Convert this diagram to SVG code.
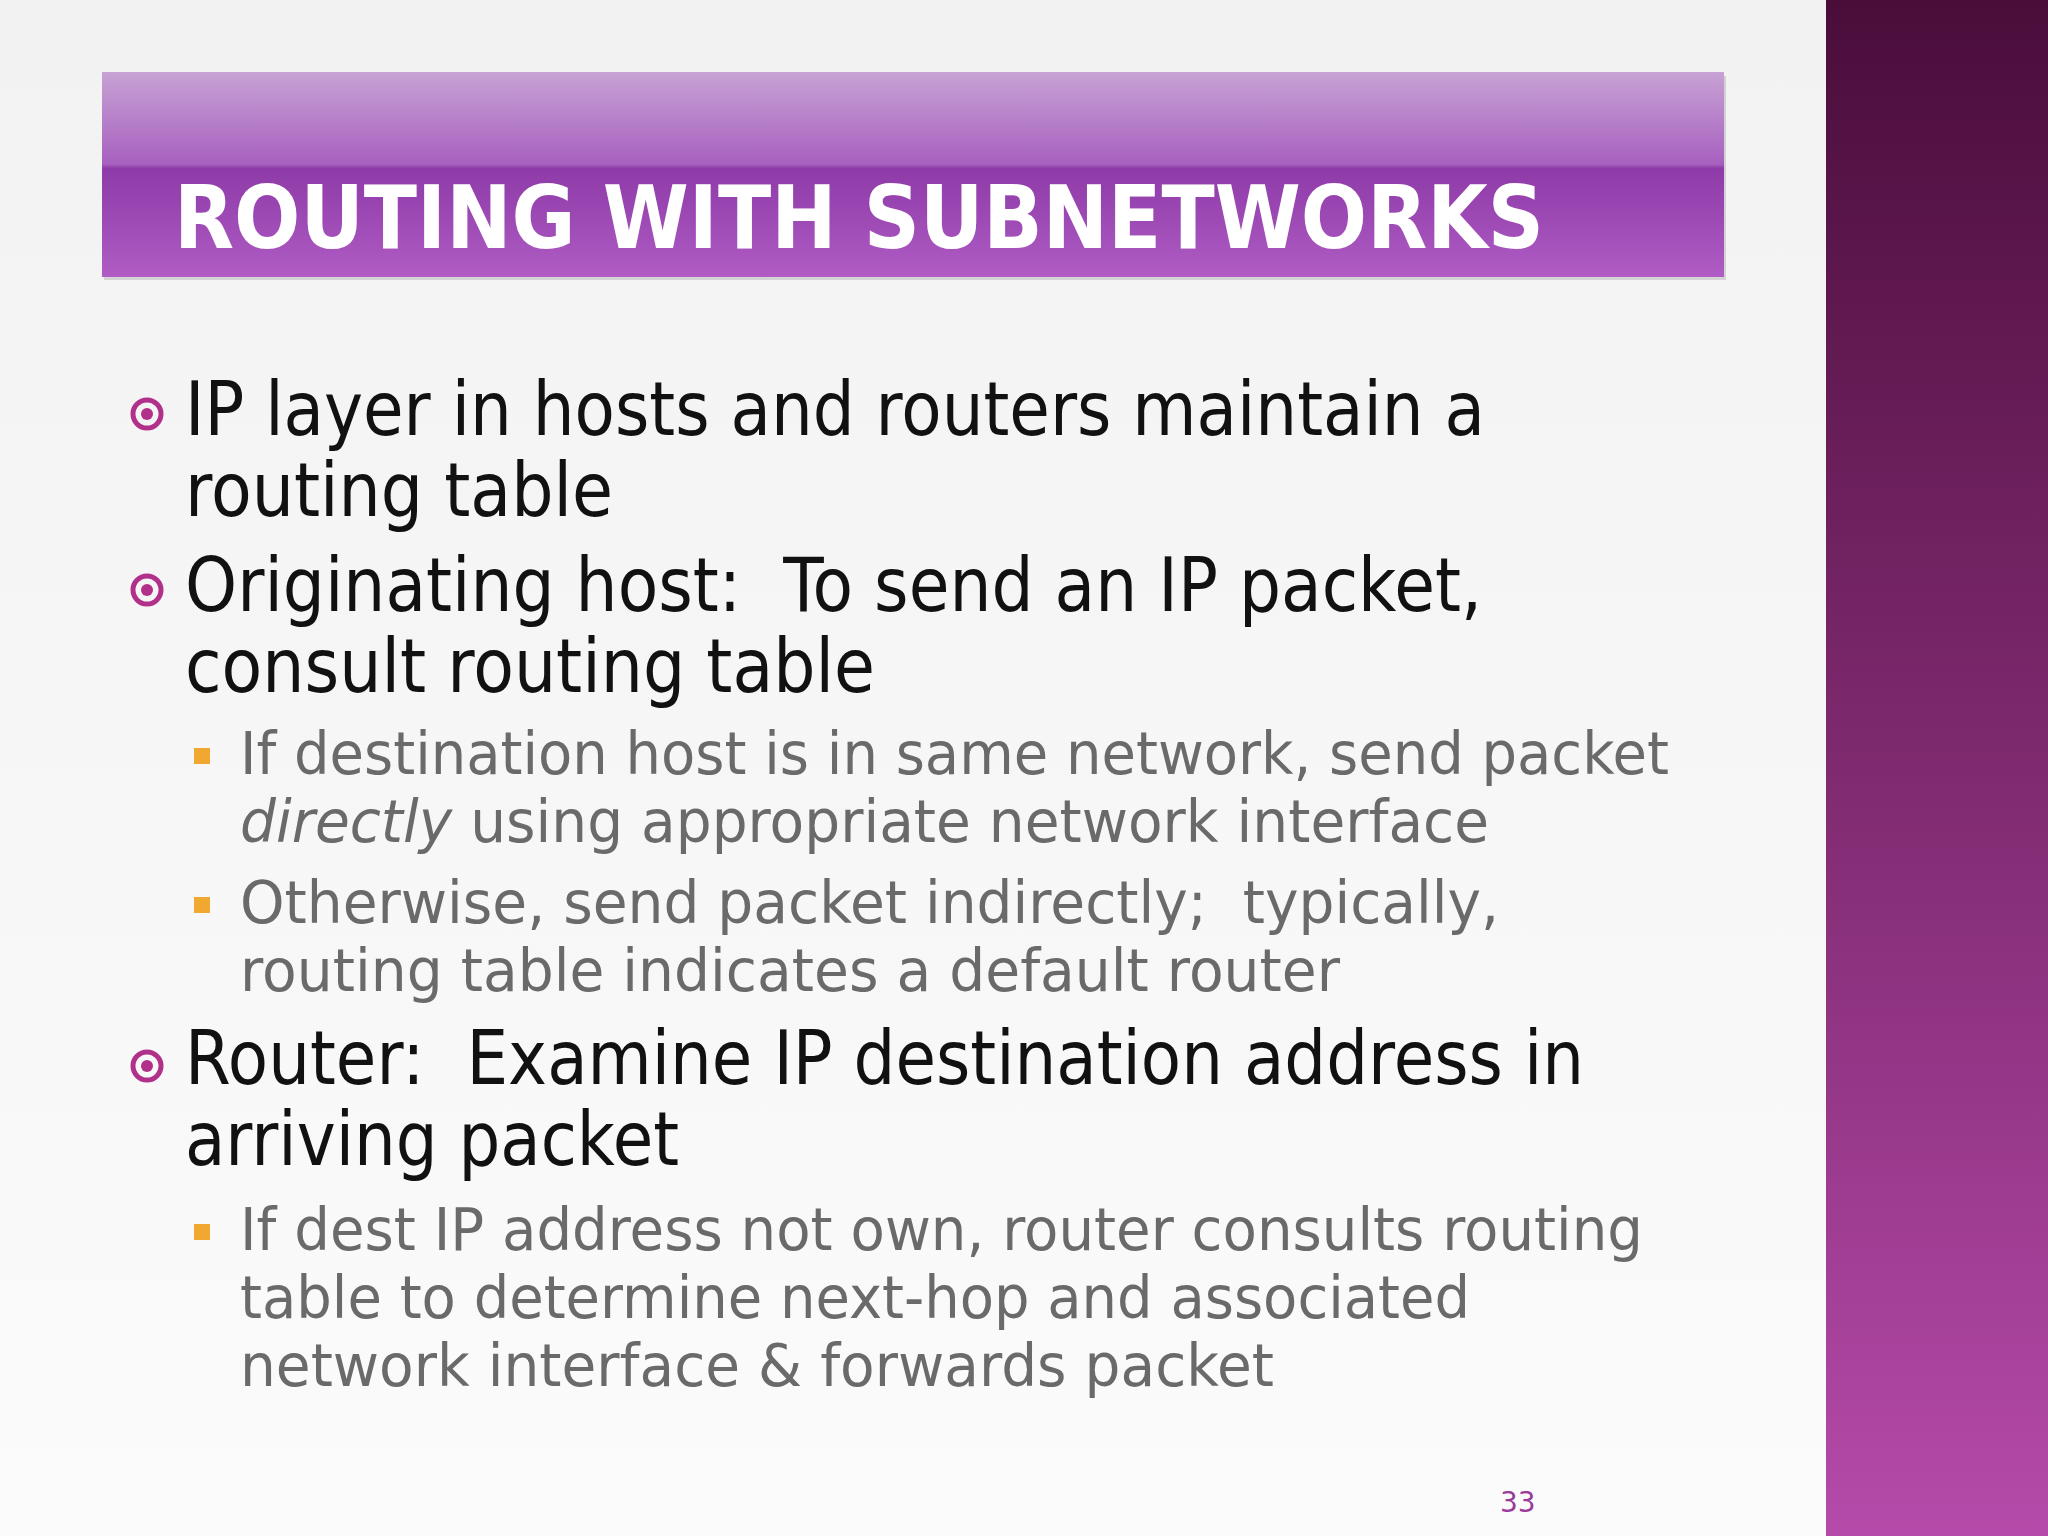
<svg xmlns="http://www.w3.org/2000/svg" width="2048" height="1536" viewBox="0 0 2048 1536">
<defs>
<linearGradient id="bg" x1="0" y1="0" x2="0" y2="1"><stop offset="0" stop-color="#f2f2f2"/><stop offset="1" stop-color="#fbfbfb"/></linearGradient>
<linearGradient id="side" x1="0" y1="0" x2="0" y2="1"><stop offset="0" stop-color="#4a0d3a"/><stop offset="0.5" stop-color="#7f2a70"/><stop offset="1" stop-color="#b54aaa"/></linearGradient>
<linearGradient id="title" x1="0" y1="0" x2="0" y2="1"><stop offset="0" stop-color="#c7a2d4"/><stop offset="0.45" stop-color="#a760bf"/><stop offset="0.47" stop-color="#8e3aa8"/><stop offset="1" stop-color="#b05cc4"/></linearGradient>
<style>
.m{font-family:"DejaVu Sans",Verdana,sans-serif;font-size:74px;fill:#111}
.s{font-family:"DejaVu Sans",Verdana,sans-serif;font-size:58px;fill:#6a6a6a}
.b{fill:none;stroke:#b0308a;stroke-width:5}
.d{fill:#b0308a}
.q{fill:#f0a830}
</style>
</defs>
<rect width="2048" height="1536" fill="url(#bg)"/>
<rect x="1826" y="0" width="222" height="1536" fill="url(#side)"/>
<rect x="104" y="76" width="1622" height="204" fill="#999" opacity="0.35"/>
<rect x="102" y="72" width="1622" height="205" fill="url(#title)"/>
<text x="174" y="248" font-family="DejaVu Sans,sans-serif" font-weight="bold" font-size="88" fill="#fff" textLength="1370" lengthAdjust="spacingAndGlyphs">ROUTING WITH SUBNETWORKS</text>
<g>
<circle class="b" cx="147" cy="414" r="14"/><circle class="d" cx="147" cy="414" r="6"/>
<circle class="b" cx="147" cy="590" r="14"/><circle class="d" cx="147" cy="590" r="6"/>
<circle class="b" cx="147" cy="1066" r="14"/><circle class="d" cx="147" cy="1066" r="6"/>
<rect class="q" x="194" y="748" width="16" height="16"/>
<rect class="q" x="194" y="897" width="16" height="16"/>
<rect class="q" x="194" y="1224" width="16" height="16"/>
</g>
<text class="m" x="185" y="435" textLength="1300" lengthAdjust="spacingAndGlyphs">IP layer in hosts and routers maintain a</text>
<text class="m" x="185" y="516" textLength="428" lengthAdjust="spacingAndGlyphs">routing table</text>
<text class="m" x="185" y="611" textLength="1297" lengthAdjust="spacingAndGlyphs" xml:space="preserve">Originating host:  To send an IP packet,</text>
<text class="m" x="185" y="692" textLength="690" lengthAdjust="spacingAndGlyphs">consult routing table</text>
<text class="s" x="240" y="774" textLength="1429" lengthAdjust="spacingAndGlyphs">If destination host is in same network, send packet</text>
<text class="s" x="240" y="842" textLength="1249" lengthAdjust="spacingAndGlyphs"><tspan font-style="italic">directly</tspan> using appropriate network interface</text>
<text class="s" x="240" y="923" textLength="1259" lengthAdjust="spacingAndGlyphs" xml:space="preserve">Otherwise, send packet indirectly;  typically,</text>
<text class="s" x="240" y="991" textLength="1100" lengthAdjust="spacingAndGlyphs">routing table indicates a default router</text>
<text class="m" x="185" y="1084" textLength="1399" lengthAdjust="spacingAndGlyphs" xml:space="preserve">Router:  Examine IP destination address in</text>
<text class="m" x="185" y="1165" textLength="494" lengthAdjust="spacingAndGlyphs">arriving packet</text>
<text class="s" x="240" y="1250" textLength="1403" lengthAdjust="spacingAndGlyphs">If dest IP address not own, router consults routing</text>
<text class="s" x="240" y="1318" textLength="1230" lengthAdjust="spacingAndGlyphs">table to determine next-hop and associated</text>
<text class="s" x="240" y="1386" textLength="1034" lengthAdjust="spacingAndGlyphs">network interface &amp; forwards packet</text>
<text x="1500" y="1512" font-family="DejaVu Sans,sans-serif" font-size="28" fill="#9a3a9a">33</text>
</svg>
